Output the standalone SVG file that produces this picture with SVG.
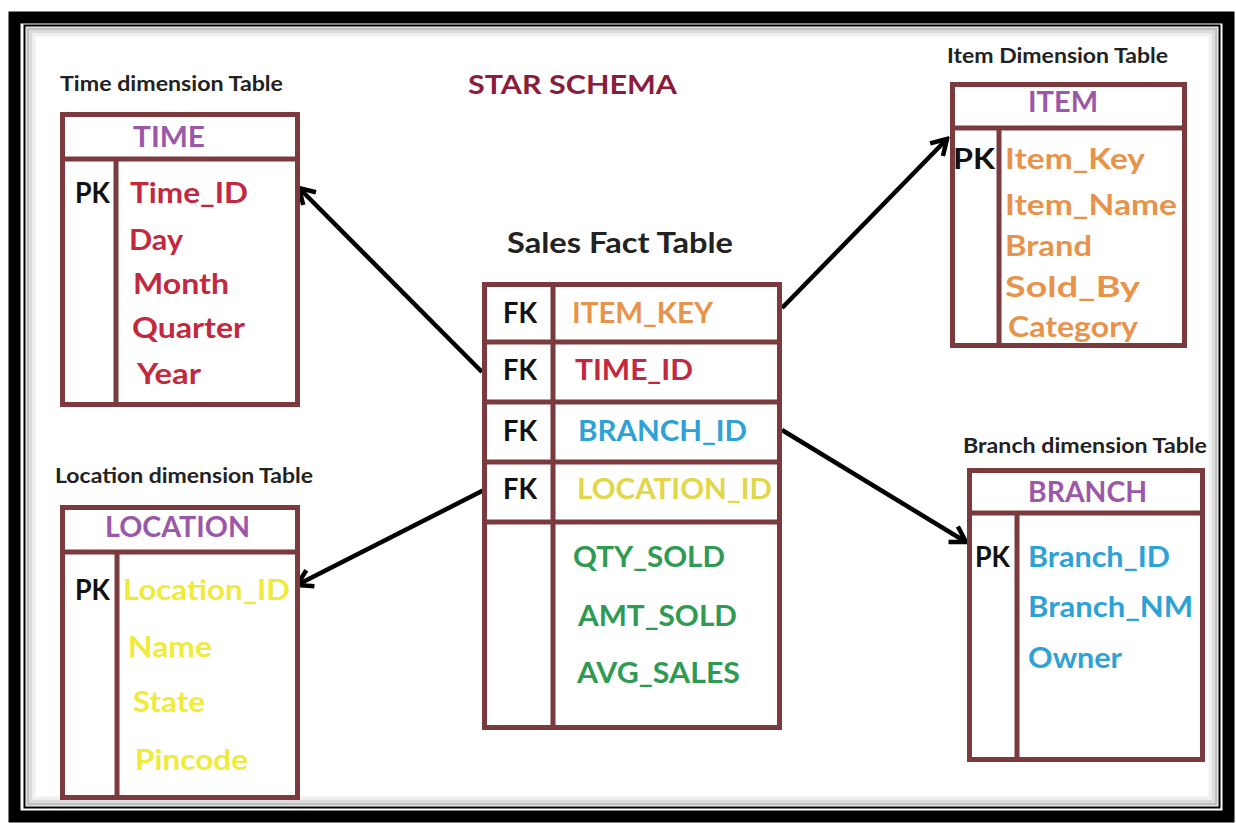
<svg xmlns="http://www.w3.org/2000/svg" width="1236" height="823" viewBox="0 0 1236 823">
<defs>
<style>
.frame{fill:none;stroke:#000}
.tb{fill:#fff;stroke:#7a3a3e;stroke-width:5}
.ln{stroke:#7a3a3e;stroke-width:5}
.t{font-family:Lato,"Liberation Sans",sans-serif;font-weight:bold}
.cap{font-size:21px;fill:#222}
.hd{font-size:29px;fill:#9c58a8}
.f{font-size:29px}
.k{fill:#111}
.red{fill:#c3283f}
.org{fill:#e8924a}
.yel{fill:#f0ea3a}
.blu{fill:#2ea2d6}
.grn{fill:#2f9a52}
.arr{stroke:#000;stroke-width:4.5;fill:none}
</style>
<marker id="ah" viewBox="0 0 22 22" refX="19" refY="11" markerWidth="22" markerHeight="22" markerUnits="userSpaceOnUse" orient="auto">
<path d="M4,2 L19,11 L4,20" fill="none" stroke="#000" stroke-width="4.5"/>
</marker>
</defs>
<rect width="1236" height="823" fill="#fff"/>
<g id="frame">
<rect class="frame" x="14.5" y="17.5" width="1214" height="799" stroke-width="12"/>
<rect class="frame" x="24.5" y="25.5" width="1195" height="782" stroke-width="2"/>
<rect x="28" y="29" width="1188" height="775" fill="none" stroke="#c0c0c0" stroke-width="3"/>
<rect x="31" y="32" width="1182" height="769" fill="none" stroke="#dcdcdc" stroke-width="3"/>
<rect x="34" y="35" width="1176" height="763" fill="none" stroke="#efefef" stroke-width="3"/>
</g>
<text id="title" class="t" x="468" y="94" font-size="27" fill="#8b1c3c" textLength="209" lengthAdjust="spacingAndGlyphs">STAR SCHEMA</text>
<g id="connectors">
<line class="arr" x1="482" y1="372" x2="299" y2="188" marker-end="url(#ah)"/>
<line class="arr" x1="484" y1="490" x2="297" y2="585" marker-end="url(#ah)"/>
<line class="arr" x1="782" y1="308" x2="947" y2="139" marker-end="url(#ah)"/>
<line class="arr" x1="782" y1="430" x2="966" y2="542" marker-end="url(#ah)"/>
</g>
<g id="time">
<text class="t cap" x="60" y="91" textLength="223" lengthAdjust="spacingAndGlyphs">Time dimension Table</text>
<rect class="tb" x="62.5" y="114.5" width="235" height="290"/>
<line class="ln" x1="60" y1="159" x2="300" y2="159"/>
<line class="ln" x1="116" y1="159" x2="116" y2="407"/>
<text class="t hd" x="133" y="147" textLength="72" lengthAdjust="spacingAndGlyphs">TIME</text>
<text class="t f k" x="75" y="203" textLength="35" lengthAdjust="spacingAndGlyphs">PK</text>
<text class="t f red" x="130" y="203" textLength="118" lengthAdjust="spacingAndGlyphs">Time_ID</text>
<text class="t f red" x="129" y="250" textLength="54" lengthAdjust="spacingAndGlyphs">Day</text>
<text class="t f red" x="133" y="294" textLength="96" lengthAdjust="spacingAndGlyphs">Month</text>
<text class="t f red" x="132" y="338" textLength="113" lengthAdjust="spacingAndGlyphs">Quarter</text>
<text class="t f red" x="137" y="384" textLength="64" lengthAdjust="spacingAndGlyphs">Year</text>
</g>
<g id="location">
<text class="t cap" x="55" y="483" textLength="258" lengthAdjust="spacingAndGlyphs">Location dimension Table</text>
<rect class="tb" x="62.5" y="507.5" width="235" height="290"/>
<line class="ln" x1="60" y1="552" x2="300" y2="552"/>
<line class="ln" x1="117" y1="552" x2="117" y2="800"/>
<text class="t hd" x="105" y="537" textLength="145" lengthAdjust="spacingAndGlyphs">LOCATION</text>
<text class="t f k" x="75" y="600" textLength="35" lengthAdjust="spacingAndGlyphs">PK</text>
<text class="t f yel" x="123" y="600" textLength="167" lengthAdjust="spacingAndGlyphs">Location_ID</text>
<text class="t f yel" x="128" y="657" textLength="84" lengthAdjust="spacingAndGlyphs">Name</text>
<text class="t f yel" x="133" y="712" textLength="72" lengthAdjust="spacingAndGlyphs">State</text>
<text class="t f yel" x="135" y="770" textLength="113" lengthAdjust="spacingAndGlyphs">Pincode</text>
</g>
<g id="fact">
<text class="t" x="507" y="253" font-size="29" fill="#222" textLength="226" lengthAdjust="spacingAndGlyphs">Sales Fact Table</text>
<rect class="tb" x="484.5" y="284.5" width="295" height="443"/>
<line class="ln" x1="482" y1="342" x2="782" y2="342"/>
<line class="ln" x1="482" y1="402" x2="782" y2="402"/>
<line class="ln" x1="482" y1="462" x2="782" y2="462"/>
<line class="ln" x1="482" y1="522" x2="782" y2="522"/>
<line class="ln" x1="553" y1="282" x2="553" y2="730"/>
<text class="t f k" x="503" y="323" textLength="34" lengthAdjust="spacingAndGlyphs">FK</text>
<text class="t f k" x="503" y="380" textLength="34" lengthAdjust="spacingAndGlyphs">FK</text>
<text class="t f k" x="503" y="441" textLength="34" lengthAdjust="spacingAndGlyphs">FK</text>
<text class="t f k" x="503" y="499" textLength="34" lengthAdjust="spacingAndGlyphs">FK</text>
<text class="t f org" x="572" y="323" textLength="141" lengthAdjust="spacingAndGlyphs">ITEM_KEY</text>
<text class="t f red" x="575" y="380" textLength="118" lengthAdjust="spacingAndGlyphs">TIME_ID</text>
<text class="t f blu" x="578" y="441" textLength="169" lengthAdjust="spacingAndGlyphs">BRANCH_ID</text>
<text class="t f" x="577" y="499" fill="#e2d64a" textLength="195" lengthAdjust="spacingAndGlyphs">LOCATION_ID</text>
<text class="t f grn" x="573" y="567" textLength="152" lengthAdjust="spacingAndGlyphs">QTY_SOLD</text>
<text class="t f grn" x="578" y="626" textLength="159" lengthAdjust="spacingAndGlyphs">AMT_SOLD</text>
<text class="t f grn" x="577" y="683" textLength="163" lengthAdjust="spacingAndGlyphs">AVG_SALES</text>
</g>
<g id="item">
<text class="t cap" x="947" y="63" textLength="221" lengthAdjust="spacingAndGlyphs">Item Dimension Table</text>
<rect class="tb" x="952.5" y="84.5" width="232" height="261"/>
<line class="ln" x1="950" y1="128" x2="1187" y2="128"/>
<line class="ln" x1="999" y1="128" x2="999" y2="348"/>
<text class="t hd" x="1028" y="112" textLength="70" lengthAdjust="spacingAndGlyphs">ITEM</text>
<text class="t f k" x="953" y="169" textLength="42" lengthAdjust="spacingAndGlyphs">PK</text>
<text class="t f org" x="1005" y="169" textLength="140" lengthAdjust="spacingAndGlyphs">Item_Key</text>
<text class="t f org" x="1005" y="215" textLength="172" lengthAdjust="spacingAndGlyphs">Item_Name</text>
<text class="t f org" x="1005" y="256" textLength="87" lengthAdjust="spacingAndGlyphs">Brand</text>
<text class="t f org" x="1005" y="297" textLength="135" lengthAdjust="spacingAndGlyphs">Sold_By</text>
<text class="t f org" x="1008" y="337" textLength="130" lengthAdjust="spacingAndGlyphs">Category</text>
</g>
<g id="branch">
<text class="t cap" x="963" y="453" textLength="244" lengthAdjust="spacingAndGlyphs">Branch dimension Table</text>
<rect class="tb" x="969.5" y="470.5" width="233" height="289"/>
<line class="ln" x1="967" y1="513" x2="1205" y2="513"/>
<line class="ln" x1="1017" y1="513" x2="1017" y2="762"/>
<text class="t hd" x="1028" y="502" textLength="119" lengthAdjust="spacingAndGlyphs">BRANCH</text>
<text class="t f k" x="975" y="567" textLength="35" lengthAdjust="spacingAndGlyphs">PK</text>
<text class="t f blu" x="1028" y="567" textLength="142" lengthAdjust="spacingAndGlyphs">Branch_ID</text>
<text class="t f blu" x="1028" y="617" textLength="165" lengthAdjust="spacingAndGlyphs">Branch_NM</text>
<text class="t f blu" x="1028" y="668" textLength="94" lengthAdjust="spacingAndGlyphs">Owner</text>
</g>
</svg>
